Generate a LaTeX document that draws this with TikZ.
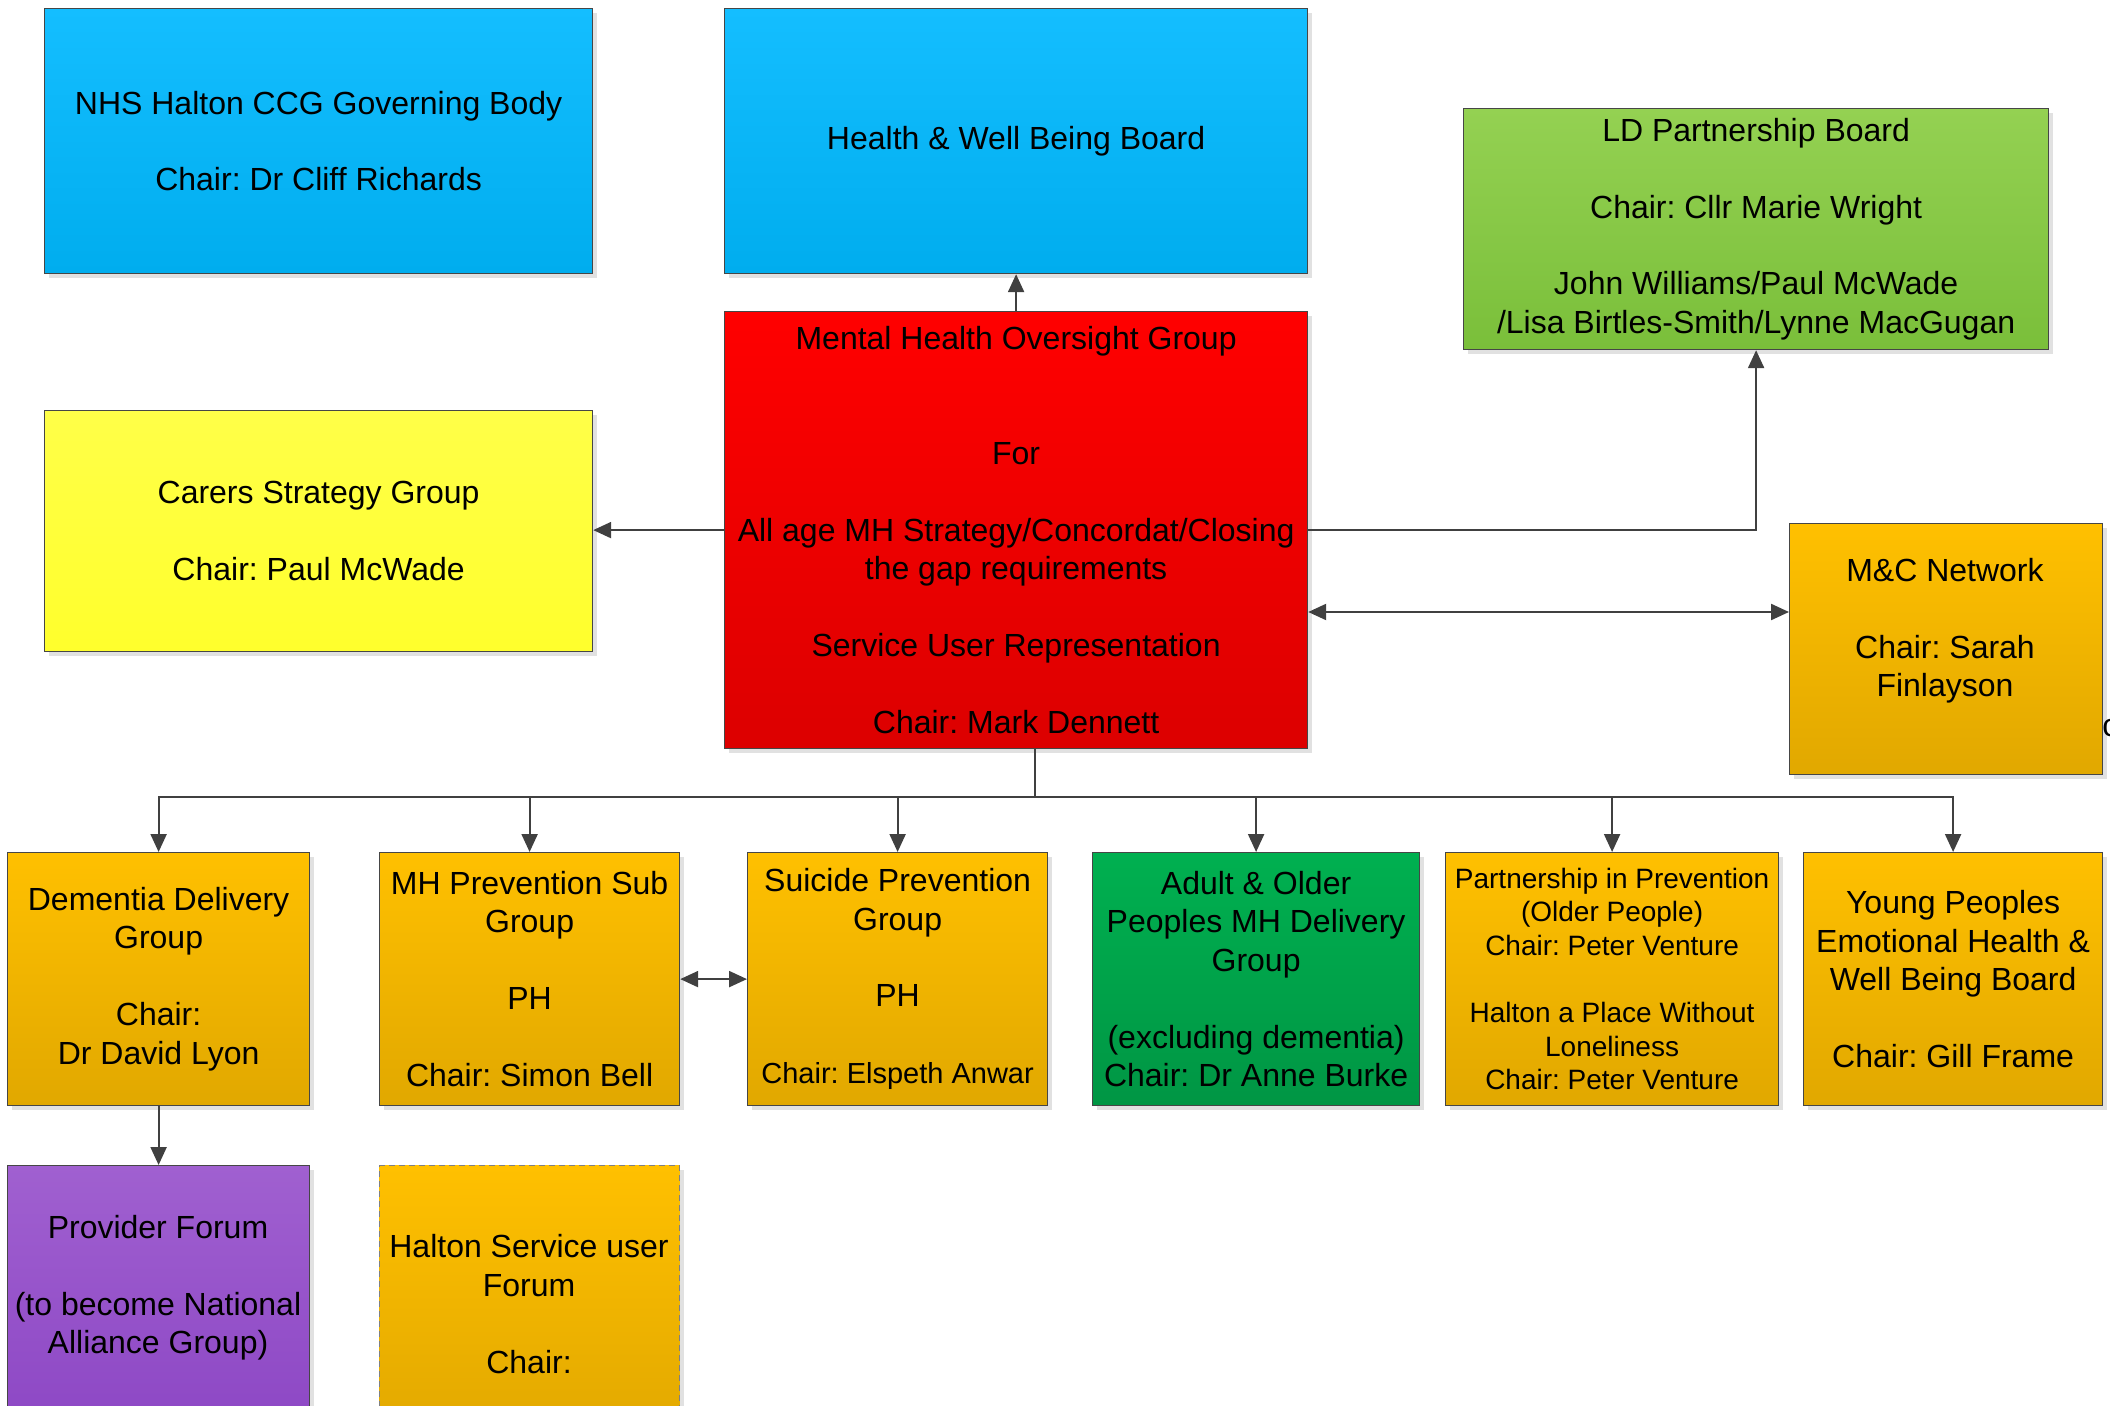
\documentclass[tikz,border=0pt]{standalone}
\usepackage{fontspec}
\setmainfont{Liberation Sans}
\usetikzlibrary{arrows.meta}
\frenchspacing
\definecolor{blueT}{RGB}{20,190,255}
\definecolor{blueB}{RGB}{0,173,238}
\definecolor{lgreenT}{RGB}{148,209,82}
\definecolor{lgreenB}{RGB}{122,191,58}
\definecolor{redT}{RGB}{255,0,0}
\definecolor{redB}{RGB}{220,0,0}
\definecolor{yelT}{RGB}{255,255,72}
\definecolor{yelB}{RGB}{255,255,44}
\definecolor{orT}{RGB}{255,192,0}
\definecolor{orB}{RGB}{225,168,0}
\definecolor{dgreenT}{RGB}{0,176,80}
\definecolor{dgreenB}{RGB}{0,150,68}
\definecolor{purT}{RGB}{160,96,208}
\definecolor{purB}{RGB}{140,70,196}
\definecolor{boxline}{RGB}{70,70,70}
\definecolor{lineg}{RGB}{64,64,64}
\definecolor{shadowg}{RGB}{225,225,225}
\tikzset{
  box/.style={draw=boxline, line width=0.6pt, inner sep=0pt, align=center,
    font=\fontsize{16pt}{19.2pt}\selectfont, anchor=north west},
  txt/.style={inner sep=0pt, align=center, font=\fontsize{16pt}{19.2pt}\selectfont},
  blue/.style={top color=blueT, bottom color=blueB},
  lgreen/.style={top color=lgreenT, bottom color=lgreenB},
  redbox/.style={top color=redT, bottom color=redB},
  yel/.style={top color=yelT, bottom color=yelB},
  orng/.style={top color=orT, bottom color=orB},
  dgreen/.style={top color=dgreenT, bottom color=dgreenB},
  purp/.style={top color=purT, bottom color=purB},
  conn/.style={draw=lineg, line width=1.1pt},
  arr/.style={conn, -{Triangle[length=9pt,width=8pt]}},
  arrboth/.style={conn, {Triangle[length=9pt,width=8pt]}-{Triangle[length=9pt,width=8pt]}},
}
\newcommand\orgbox[7]{%
  \fill[shadowg] (#2+5,#3+5) rectangle (#4+5,#5+5);
  \node[box,#6,minimum width={(#4-#2)*0.5pt},minimum height={(#5-#3)*0.5pt}] (#1) at (#2,#3) {#7};
}
\begin{document}
\begin{tikzpicture}[x=0.5pt,y=-0.5pt]
\useasboundingbox[fill=white] (0,0) rectangle (2110,1406);

\orgbox{nhs}{44}{8}{592}{273}{blue}{NHS Halton CCG Governing Body\\[19.2pt]Chair: Dr Cliff Richards}
\orgbox{hwb}{724}{8}{1307}{273}{blue}{Health \& Well Being Board}
\orgbox{ld}{1463}{108}{2048}{349}{lgreen}{LD Partnership Board\\[19.2pt]Chair: Cllr Marie Wright\\[19.2pt]John Williams/Paul McWade\\/Lisa Birtles-Smith/Lynne MacGugan}
\orgbox{mhog}{724}{311}{1307}{748}{redbox}{Mental Health Oversight Group\\[38.4pt]For\\[19.2pt]All age MH Strategy/Concordat/Closing\\the gap requirements\\[19.2pt]Service User Representation\\[19.2pt]Chair: Mark Dennett}
\orgbox{carers}{44}{410}{592}{651}{yel}{Carers Strategy Group\\[19.2pt]Chair: Paul McWade}
\orgbox{mc}{1789}{523}{2102}{774}{orng}{}
\node[txt] (mctext) at (1945,631) {M\&C Network\\[19.2pt]Chair: Sarah\\Finlayson};

\orgbox{dem}{7}{852}{309}{1105}{orng}{Dementia Delivery\\Group\\[19.2pt]Chair:\\Dr David Lyon}
\orgbox{mhp}{379}{852}{679}{1105}{orng}{MH Prevention Sub\\Group\\[19.2pt]PH\\[19.2pt]Chair: Simon Bell}
\orgbox{sui}{747}{852}{1047}{1105}{orng}{Suicide Prevention\\Group\\[19.2pt]PH\\[19.2pt]{\fontsize{14.5pt}{19.2pt}\selectfont Chair: Elspeth Anwar}}
\orgbox{adult}{1092}{852}{1419}{1105}{dgreen}{Adult \& Older\\Peoples MH Delivery\\Group\\[19.2pt](excluding dementia)\\Chair: Dr Anne Burke}
\orgbox{pip}{1445}{852}{1778}{1105}{orng,font=\fontsize{14pt}{16.8pt}\selectfont}{Partnership in Prevention\\(Older People)\\Chair: Peter Venture\\[16.8pt]Halton a Place Without\\Loneliness\\Chair: Peter Venture}
\orgbox{yp}{1803}{852}{2102}{1105}{orng}{Young Peoples\\Emotional Health \&\\Well Being Board\\[19.2pt]Chair: Gill Frame}

\orgbox{prov}{7}{1165}{309}{1440}{purp}{}
\node[txt] (provtext) at (158,1288) {Provider Forum\\[19.2pt](to become National\\Alliance Group)};
\orgbox{hsuf}{379}{1165}{679}{1440}{orng,draw=gray,dash pattern=on 3pt off 2pt}{}
\node[txt] (hsuftext) at (529,1304) {Halton Service user\\Forum\\[19.2pt]Chair:};

\node[txt, anchor=west] (cut) at (2102,728) {c};

% connectors
\draw[arr] (mhog) -- (hwb);
\draw[arr] (mhog.west) -- (mhog.west -| carers.east);
\draw[arr] (mhog.east) -| (ld);
\coordinate (mcy) at (0,612);
\draw[arrboth] (mhog.east |- mcy) -- (mc.west |- mcy);

\coordinate (bus) at (1035,797);
\draw[conn] (mhog.south -| bus) -- (bus);
\draw[arr] (bus) -| (dem);
\draw[arr] (bus) -| (mhp);
\draw[arr] (bus) -| (sui);
\draw[arr] (bus) -| (adult);
\draw[arr] (bus) -| (pip);
\draw[arr] (bus) -| (yp);

\draw[arrboth] (mhp) -- (sui);
\draw[arr] (dem) -- (prov);
\end{tikzpicture}
\end{document}
